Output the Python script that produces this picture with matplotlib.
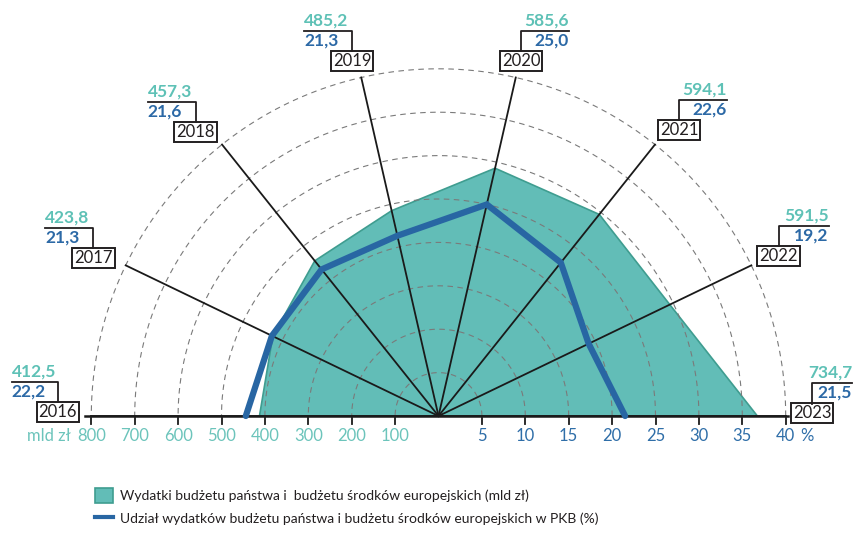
import numpy as np
import matplotlib.pyplot as plt
from matplotlib.patches import Polygon, Rectangle

# data
years = ['2016', '2017', '2018', '2019', '2020', '2021', '2022', '2023']
spend = [412.5, 423.8, 457.3, 485.2, 585.6, 594.1, 591.5, 734.7]   # mld zl
share = [22.2, 21.3, 21.6, 21.3, 25.0, 22.6, 19.2, 21.5]            # % PKB
mld_ticks = [800, 700, 600, 500, 400, 300, 200, 100]
pct_ticks = [5, 10, 15, 20, 25, 30, 35, 40]
legend_labels = ['Wydatki budżetu państwa i  budżetu środków europejskich (mld zł)',
                 'Udział wydatków budżetu państwa i budżetu środków europejskich w PKB (%)']

# layout (pixels)
W, H = 856, 533
U = 43.4            # px per ring (100 mld zl / 5 %)
CX, CY = 438.5, 416
box_off = [(-33.5, 4), (-32.3, 7.4), (-26.5, 12.7), (-9.3, 16.7),
           (5.3, 16.7), (24, 14.7), (27.3, 9.4), (26.5, 3)]
bracket = [46, 48, 48, 48, 48, 48, 50, 40]

TEAL = '#62bdb7'
TEAL_EDGE = '#3f9d90'
TEAL_TXT = '#5ec1b6'
BLUE = '#2866a3'
BLUE_TXT = '#2c69a6'
INK = '#231f20'

plt.rcParams['font.family'] = ['Lato', 'DejaVu Sans']

fig = plt.figure(figsize=(W / 100, H / 100), dpi=100)
ax = fig.add_axes([0, 0, 1, 1])
ax.set_xlim(-CX / U, (W - CX) / U)
ax.set_ylim(-(H - CY) / U, CY / U)
ax.axis('off')


def px(x, y):
    return (x - CX) / U, (CY - y) / U


theta = np.pi - np.arange(len(years)) * np.pi / 7
r_spend = np.array(spend) / 100
r_share = np.array(share) / 5

# teal area
pts = np.column_stack([r_spend * np.cos(theta), r_spend * np.sin(theta)])
ax.add_patch(Polygon(pts, closed=True, fc=TEAL, ec=TEAL_EDGE, lw=1.2, zorder=2))

# dashed rings
t = np.linspace(0, np.pi, 300)
for r in range(1, 9):
    ax.plot(r * np.cos(t), r * np.sin(t), color='#7a7a7a', lw=0.8,
            dashes=(5, 4), zorder=3)

# spokes
for th in theta:
    ax.plot([0, 8 * np.cos(th)], [0, 8 * np.sin(th)], color='#1a1a1a', lw=1.3, zorder=4)

# base axis + ticks
ax.plot([-8.15, 8.05], [0, 0], color='#1a1a1a', lw=1.8, zorder=4)
for k in range(1, 9):
    for s in (-1, 1):
        ax.plot([s * k, s * k], [-2 / U, -8 / U], color='#1a1a1a', lw=1.3, zorder=4)

ty = -20 / U
for v in mld_ticks:
    ax.text(-v / 100, ty, str(v), ha='center', va='center', fontsize=12, color='#6cc4bb')
for v in pct_ticks:
    ax.text(v / 5, ty, str(v), ha='center', va='center', fontsize=12, color='#2f6ea8')
ax.text(*px(71, 436), 'mld zł', ha='right', va='center', fontsize=12, color='#6cc4bb')
ax.text(*px(800, 436), '%', ha='left', va='center', fontsize=12, color='#2f6ea8')

# blue share line
ax.plot(r_share * np.cos(theta), r_share * np.sin(theta), color=BLUE, lw=4.5,
        solid_capstyle='round', solid_joinstyle='miter', zorder=5)

# year boxes with value labels
for k, th in enumerate(theta):
    bx = 8 * np.cos(th) + box_off[k][0] / U
    by = 8 * np.sin(th) + box_off[k][1] / U
    ax.text(bx, by, years[k], ha='center', va='center', fontsize=12, color=INK,
            bbox=dict(boxstyle='square,pad=0.12', fc='white', ec=INK, lw=1.4), zorder=6)
    side = -1 if k < 4 else 1
    L = bracket[k] / U
    ly = by + 30 / U
    ax.plot([bx + side * L, bx, bx], [ly, ly, by + 9.5 / U], color=INK, lw=1.3, zorder=6)
    ha = 'left' if side < 0 else 'right'
    ax.text(bx + side * L, ly + 5.5 / U, f'{spend[k]:.1f}'.replace('.', ','),
            ha=ha, va='baseline', fontsize=12.5, fontweight='bold', color=TEAL_TXT)
    ax.text(bx + side * L, ly - 15 / U, f'{share[k]:.1f}'.replace('.', ','),
            ha=ha, va='baseline', fontsize=12.5, fontweight='bold', color=BLUE_TXT)

# legend
x0, y0 = px(95, 503)
ax.add_patch(Rectangle((x0, y0), 18 / U, 15 / U, fc=TEAL, ec=TEAL_EDGE, lw=1.2))
ax.text(*px(120, 496), legend_labels[0], ha='left', va='center', fontsize=10, color=INK)
lx0, ly0 = px(95, 517)
lx1, _ = px(113, 517)
ax.plot([lx0, lx1], [ly0, ly0], color=BLUE, lw=3)
ax.text(*px(120, 519), legend_labels[1], ha='left', va='center', fontsize=10, color=INK)

fig.savefig('out.png', dpi=100)
